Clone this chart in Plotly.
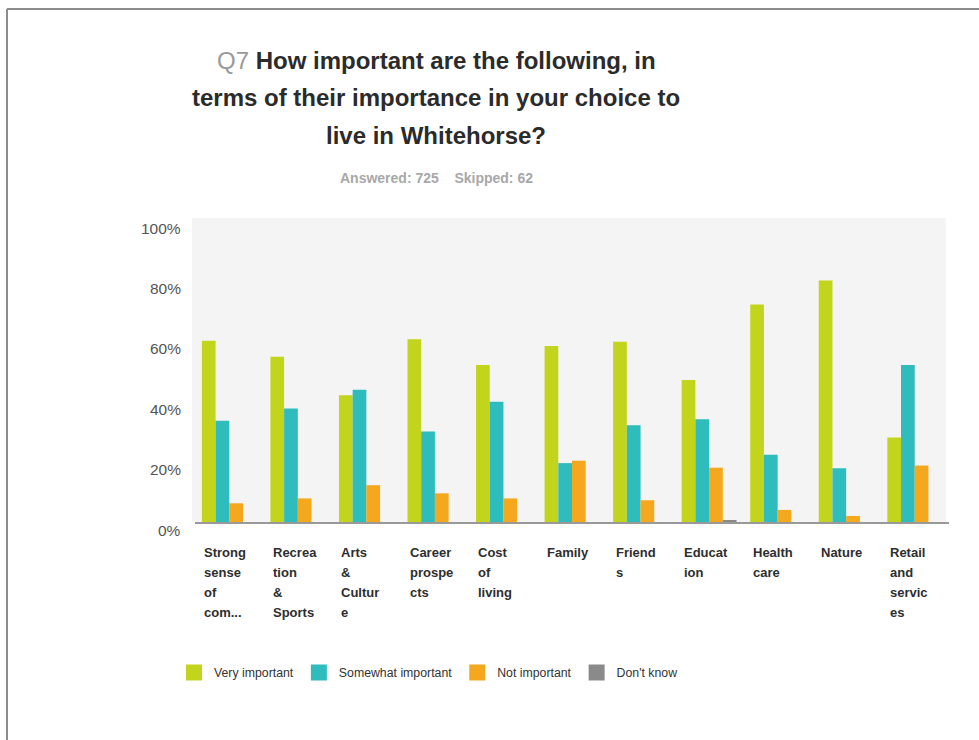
import plotly.graph_objects as go

categories = ["Strong sense of com...", "Recreation & Sports", "Arts & Culture", "Career prospects",
              "Cost of living", "Family", "Friends", "Education", "Health care", "Nature",
              "Retail and services"]
category_labels = [["Strong", "sense", "of", "com..."], ["Recrea", "tion", "&", "Sports"],
                   ["Arts", "&", "Cultur", "e"], ["Career", "prospe", "cts"], ["Cost", "of", "living"],
                   ["Family"], ["Friend", "s"], ["Educat", "ion"], ["Health", "care"], ["Nature"],
                   ["Retail", "and", "servic", "es"]]
very_important = [60, 54.7, 42, 60.5, 52, 58.3, 59.7, 47, 72, 80, 28]
somewhat_important = [33.5, 37.6, 43.8, 30, 39.8, 19.5, 32, 34, 22.3, 17.8, 52]
not_important = [6.2, 7.8, 12.2, 9.5, 7.8, 20.3, 7.2, 18, 4, 2, 18.7]
dont_know = [0, 0, 0, 0, 0, 0, 0, 0.6, 0, 0, 0]
y_ticks = [0, 20, 40, 60, 80, 100]
title_lines = ["<span style='color:#9a9a9a'>Q7</span> <b>How important are the following, in</b>",
               "<b>terms of their importance in your choice to</b>",
               "<b>live in Whitehorse?</b>"]
subtitle = "<b>Answered: 725    Skipped: 62</b>"

FONT = "Liberation Sans, Arial, sans-serif"
L, R, T, B = 195, 949, 220, 522
W, H = 979, 740


def px_x(p):
    return (p - L) / (R - L)


def px_y(p):
    return (B - p) / (B - T)


series = [
    ("Very important", very_important, "#c3d41c"),
    ("Somewhat important", somewhat_important, "#2fbcbd"),
    ("Not important", not_important, "#f5a81e"),
    ("Don't know", dont_know, "#8a8a8a"),
]

fig = go.Figure()
for name, vals, col in series:
    fig.add_trace(go.Bar(x=categories, y=vals, name=name, legendgroup=name, showlegend=False,
                         marker=dict(color=col, line=dict(width=0))))
# legend entries with larger square swatches
for name, vals, col in series:
    fig.add_trace(go.Scatter(x=[None], y=[None], mode="markers", name=name, legendgroup=name,
                             marker=dict(symbol="square", size=16, color=col, line=dict(width=0))))

annotations = []
for i, line in enumerate(title_lines):
    annotations.append(dict(
        xref="paper", yref="paper", x=px_x(436), y=px_y(60 + i * 37.5), xanchor="center", yanchor="middle",
        text=line, showarrow=False, font=dict(family=FONT, size=24, color="#2b2b2b")))
annotations.append(dict(
    xref="paper", yref="paper", x=px_x(436), y=px_y(178), xanchor="center", yanchor="middle",
    text=subtitle, showarrow=False, font=dict(family=FONT, size=14, color="#a8a8a8")))
for t in y_ticks:
    annotations.append(dict(xref="paper", yref="y", x=px_x(183), y=t, yshift=-8, xanchor="right",
                            yanchor="middle", text=f"{t}%", showarrow=False,
                            font=dict(family=FONT, size=15.5, color="#555555")))
for c, lines in zip(categories, category_labels):
    for j, ln in enumerate(lines):
        annotations.append(dict(xref="x", yref="y", x=c, y=0, xshift=-27, yshift=-(30 + j * 20.3),
                                xanchor="left", yanchor="middle", align="left", text=f"<b>{ln}</b>",
                                showarrow=False, font=dict(family=FONT, size=13, color="#2e2e2e")))

shapes = [
    dict(type="rect", xref="paper", yref="paper", x0=px_x(192), y0=0, x1=px_x(946), y1=px_y(218),
         fillcolor="#f4f4f4", line=dict(width=0), layer="below"),
    dict(type="line", xref="paper", yref="paper", x0=px_x(7), y0=px_y(9), x1=px_x(985), y1=px_y(9),
         line=dict(color="#8c8c8c", width=2)),
    dict(type="line", xref="paper", yref="paper", x0=px_x(7), y0=px_y(9), x1=px_x(7), y1=px_y(745),
         line=dict(color="#8c8c8c", width=2)),
]

fig.update_layout(
    width=W, height=H,
    margin=dict(l=L, r=W - R, t=T, b=H - B, pad=0),
    paper_bgcolor="white", plot_bgcolor="rgba(0,0,0,0)",
    barmode="group", bargap=0.2, bargroupgap=0,
    font=dict(family=FONT, color="#333333"),
    showlegend=True,
    legend=dict(orientation="h", x=px_x(174), y=px_y(658), xanchor="left", yanchor="top",
                font=dict(family=FONT, size=12.3, color="#333333"), bgcolor="rgba(0,0,0,0)",
                itemsizing="trace"),
    annotations=annotations, shapes=shapes,
)
fig.update_xaxes(showticklabels=False, showgrid=False, showline=True, linecolor="#999999", linewidth=2,
                 layer="below traces", ticks="", fixedrange=True)
fig.update_yaxes(range=[0, 100], showticklabels=False, showgrid=False, zeroline=False, showline=False,
                 fixedrange=True)

fig.write_html("out.html")
